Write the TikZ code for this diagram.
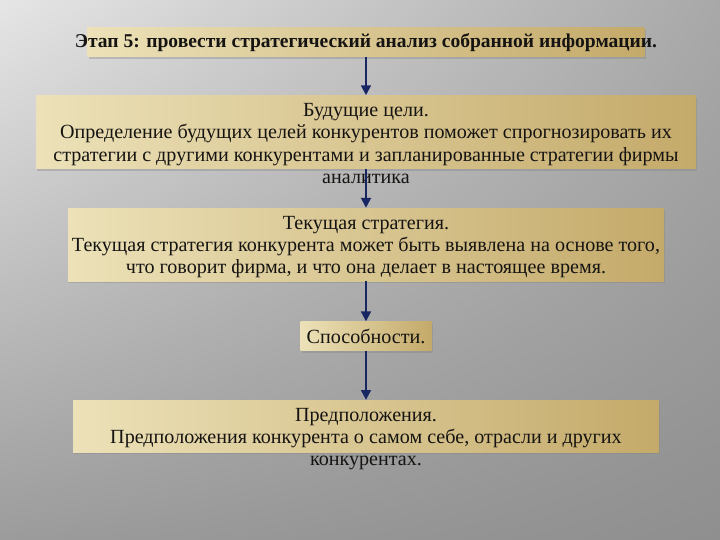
\documentclass[tikz,border=0pt]{standalone}
\usepackage{fontspec}
\setmainfont{Liberation Serif}
\usetikzlibrary{arrows.meta, positioning, shadows, shadings}
\definecolor{panelleft}{RGB}{236,225,184}
\definecolor{panelright}{RGB}{196,170,106}
\definecolor{arrowblue}{RGB}{24,38,100}
\definecolor{textdark}{RGB}{22,20,18}
\tikzset{
    panel/.style={
        rectangle, inner sep=0pt, left color=panelleft, right color=panelright,
        drop shadow={opacity=0.35, shadow xshift=1pt, shadow yshift=-1.5pt}
    },
    paneltext/.style={
        inner sep=0pt, align=center, text=textdark,
        font=\fontsize{14.3}{15.8}\selectfont
    },
    flow/.style={draw=arrowblue, line width=1.4pt, -{Triangle[width=7pt, length=7pt]}}
}
\begin{document}
\begin{tikzpicture}

% Background
\shade[upper left=gray!20, upper right=gray!68, lower left=gray!78, lower right=gray!88]
    (0,0) rectangle (18,13.5);
\useasboundingbox (0,0) rectangle (18,13.5);

% Panels
\node[panel, minimum width=13.93cm, minimum height=0.725cm] (stage) at (9.15,12.44) {};
\node[panel, minimum width=16.5cm, minimum height=1.825cm, below=0.95cm of stage] (goals) {};
\node[panel, minimum width=14.9cm, minimum height=1.825cm, below=0.975cm of goals] (strategy) {};
\node[panel, minimum width=3.275cm, minimum height=0.725cm, below=1cm of strategy] (abilities) {};
\node[panel, minimum width=14.65cm, minimum height=1.3cm, below=1.225cm of abilities] (assume) {};

% Texts
\node[paneltext, font=\fontsize{13.9}{15.8}\selectfont\bfseries] (stagetext) at (stage) {Этап 5: провести стратегический анализ собранной информации.};
\node[paneltext, below=0.2cm of goals.north] (goalstext) {Будущие цели.\\Определение будущих целей конкурентов поможет спрогнозировать их\\стратегии с другими конкурентами и запланированные стратегии фирмы\\аналитика};
\node[paneltext, below=0.2cm of strategy.north] (strategytext) {Текущая стратегия.\\Текущая стратегия конкурента может быть выявлена на основе того,\\что говорит фирма, и что она делает в настоящее время.};
\node[paneltext] (abilitiestext) at (abilities) {Способности.};
\node[paneltext, below=0.2cm of assume.north] (assumetext) {Предположения.\\Предположения конкурента о самом себе, отрасли и других\\конкурентах.};

% Arrows
\draw[flow] (stage) -- (goals);
\draw[flow] (goals) -- (strategy);
\draw[flow] (strategy) -- (abilities);
\draw[flow] (abilities) -- (assume);

\end{tikzpicture}
\end{document}
